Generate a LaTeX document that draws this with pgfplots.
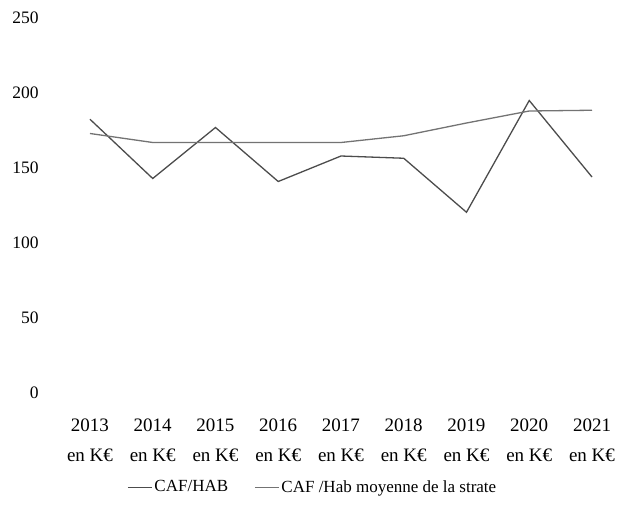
\documentclass[border=0pt]{standalone}
\usepackage{fontspec}
\setmainfont{Liberation Serif}
\usepackage{pgfplots}
\pgfplotsset{compat=1.18}
\begin{document}
\fontsize{17}{20}\selectfont
\begin{tikzpicture}
\path[use as bounding box] (-58.6pt,-111pt) rectangle (558.4pt,393pt);
\begin{axis}[
  at={(0,0)}, anchor=south west,
  scale only axis,
  width=558.5pt, height=375pt,
  xmin=-0.5, xmax=8.4,
  ymin=0, ymax=250,
  ytick={0,50,...,250},
  xtick={0,...,8},
  xticklabels={2013\\en K€,2014\\en K€,2015\\en K€,2016\\en K€,2017\\en K€,2018\\en K€,2019\\en K€,2020\\en K€,2021\\en K€},
  /pgf/number format/assume math mode=true,
  tick label style={font=\fontsize{17.5}{20}\selectfont},
  xticklabel style={align=center, yshift=-20pt, font=\fontsize{19}{30}\selectfont},
  yticklabel style={xshift=-14pt},
  axis line style={draw=none},
  major tick style={draw=none},
  legend columns=2,
  legend style={draw=none, fill=none, at={(0.455,-0.252)}, anchor=center,
    font=\fontsize{17}{20}\selectfont,
    /tikz/every even column/.append style={column sep=24pt}},
  legend image code/.code={\draw[#1] (0,0) -- (24pt,0);},
]
\addplot[black!70, line width=1.3pt] coordinates {
 (0,182.5) (1,143) (2,177) (3,141) (4,158) (5,156.5) (6,120.5) (7,195) (8,144)};
\addlegendentry{CAF/HAB}
\addplot[black!55, line width=1.3pt] coordinates {
 (0,173) (1,167) (2,167) (3,167) (4,167) (5,171.5) (6,180) (7,188) (8,188.5)};
\addlegendentry{CAF /Hab moyenne de la strate}
\end{axis}
\end{tikzpicture}
\end{document}
